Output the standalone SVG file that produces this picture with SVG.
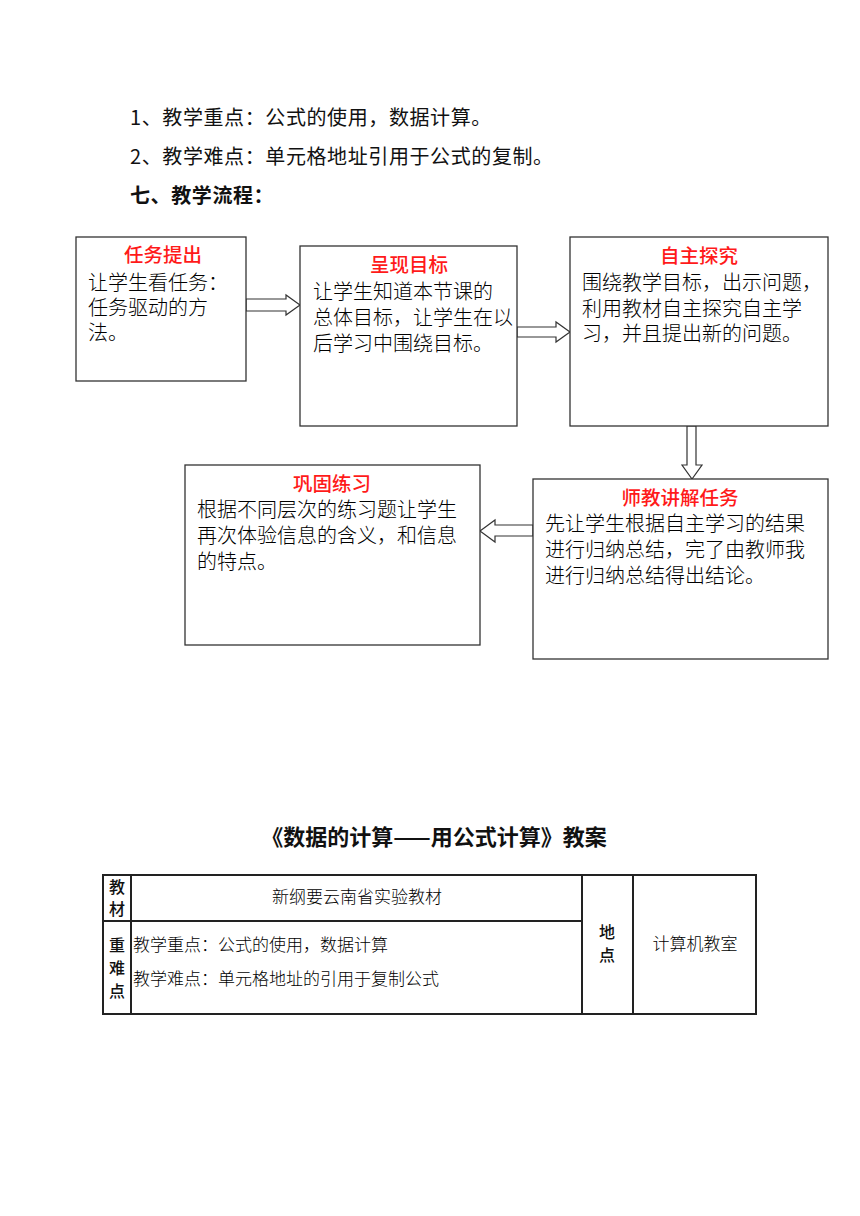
<svg xmlns="http://www.w3.org/2000/svg" width="860" height="1216" viewBox="0 0 860 1216">
<style>
.t{font-family:"Noto Sans CJK SC","Noto Sans",sans-serif;fill:#111;}
.p{font-size:20px;letter-spacing:0.6px;}
.h{font-size:19.5px;fill:#ff1a1a;text-anchor:middle;font-weight:500;}
.b{font-size:20px;font-weight:300;fill:#000;}
.box{fill:#fff;stroke:#333;stroke-width:1.3;}
.arr{fill:#fff;stroke:#333;stroke-width:1.2;stroke-linejoin:miter;}
.tb{fill:none;stroke:#222;stroke-width:2;}
.c{font-size:17px;font-weight:300;fill:#000;}
.cb{font-size:16px;font-weight:500;text-anchor:middle;}
</style>
<text class="t p" x="130" y="125">1、教学重点：公式的使用，数据计算。</text>
<text class="t p" x="130" y="164">2、教学难点：单元格地址引用于公式的复制。</text>
<text class="t p" x="130" y="203" font-weight="bold">七、教学流程：</text>

<g id="connectors">
<polygon class="arr" points="246,299 286,299 286,295 300,305 286,315 286,311 246,311"/>
<polygon class="arr" points="517,327 556,327 556,322 570,332 556,342 556,337 517,337"/>
<polygon class="arr" points="687,426 696,426 696,465 702,465 692,479 682,465 687,465"/>
<polygon class="arr" points="533,525 495,525 495,520 480,531 495,542 495,536 533,536"/>
</g>

<g id="n1">
<rect class="box" x="76" y="237" width="170" height="144"/>
<text class="t h" x="163" y="262">任务提出</text>
<text class="t b" x="88" y="290">让学生看任务：</text>
<text class="t b" x="88" y="315">任务驱动的方</text>
<text class="t b" x="88" y="340">法。</text>
</g>
<g id="n2">
<rect class="box" x="300" y="246" width="217" height="180"/>
<text class="t h" x="409" y="272">呈现目标</text>
<text class="t b" x="313" y="299">让学生知道本节课的</text>
<text class="t b" x="313" y="325">总体目标，让学生在以</text>
<text class="t b" x="313" y="351">后学习中围绕目标。</text>
</g>
<g id="n3">
<rect class="box" x="570" y="237" width="258" height="189"/>
<text class="t h" x="699" y="263">自主探究</text>
<text class="t b" x="582" y="290">围绕教学目标，出示问题，</text>
<text class="t b" x="582" y="316">利用教材自主探究自主学</text>
<text class="t b" x="582" y="341">习，并且提出新的问题。</text>
</g>
<g id="n4">
<rect class="box" x="533" y="479" width="295" height="180"/>
<text class="t h" x="680" y="505">师教讲解任务</text>
<text class="t b" x="545" y="531">先让学生根据自主学习的结果</text>
<text class="t b" x="545" y="557">进行归纳总结，完了由教师我</text>
<text class="t b" x="545" y="583">进行归纳总结得出结论。</text>
</g>
<g id="n5">
<rect class="box" x="185" y="465" width="295" height="180"/>
<text class="t h" x="332" y="491">巩固练习</text>
<text class="t b" x="197" y="517">根据不同层次的练习题让学生</text>
<text class="t b" x="197" y="543">再次体验信息的含义，和信息</text>
<text class="t b" x="197" y="569">的特点。</text>
</g>

<text class="t" x="434" y="845" font-size="22" font-weight="bold" text-anchor="middle">《数据的计算——用公式计算》教案</text>

<g id="table">
<rect class="tb" x="103" y="875" width="653" height="139"/>
<line class="tb" x1="131" y1="875" x2="131" y2="1014"/>
<line class="tb" x1="582" y1="875" x2="582" y2="1014"/>
<line class="tb" x1="633" y1="875" x2="633" y2="1014"/>
<line class="tb" x1="103" y1="921" x2="582" y2="921"/>
<text class="t cb" x="117" y="893">教</text>
<text class="t cb" x="117" y="915">材</text>
<text class="t c" x="357" y="903" text-anchor="middle">新纲要云南省实验教材</text>
<text class="t cb" x="117" y="951">重</text>
<text class="t cb" x="117" y="974">难</text>
<text class="t cb" x="117" y="997">点</text>
<text class="t c" x="133" y="951">教学重点：公式的使用，数据计算</text>
<text class="t c" x="133" y="985">教学难点：单元格地址的引用于复制公式</text>
<text class="t cb" x="607" y="938">地</text>
<text class="t cb" x="607" y="961">点</text>
<text class="t c" x="695" y="950" text-anchor="middle">计算机教室</text>
</g>
</svg>
